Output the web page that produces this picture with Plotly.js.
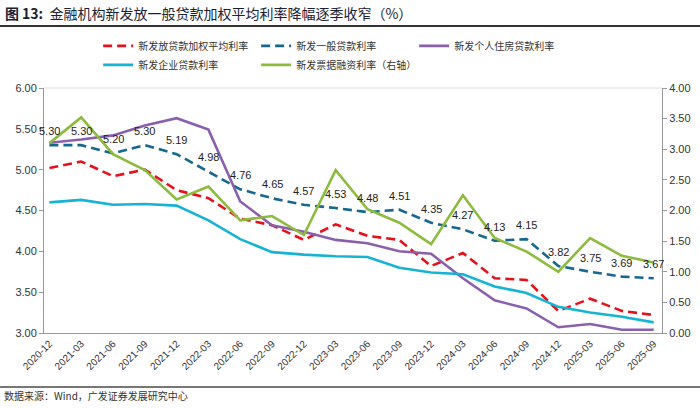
<!DOCTYPE html>
<html>
<head>
<meta charset="utf-8">
<script src="https://cdn.plot.ly/plotly-3.0.1.min.js"></script>
<style>html,body{margin:0;padding:0;background:#fff;}#chart{width:700px;height:408px;}</style>
</head>
<body>
<div id="chart"></div>
<script>
const quarters = ["2020-12","2021-03","2021-06","2021-09","2021-12","2022-03","2022-06","2022-09","2022-12","2023-03","2023-06","2023-09","2023-12","2024-03","2024-06","2024-09","2024-12","2025-03","2025-06","2025-09"];
const weightedAvg = [5.02,5.10,4.92,5.00,4.75,4.65,4.40,4.32,4.14,4.33,4.19,4.14,3.82,3.98,3.67,3.65,3.27,3.42,3.27,3.22];
const generalLoan = [5.30,5.30,5.20,5.30,5.19,4.98,4.76,4.65,4.57,4.53,4.48,4.51,4.35,4.27,4.13,4.15,3.82,3.75,3.69,3.67];
const mortgage = [5.33,5.37,5.42,5.54,5.63,5.49,4.61,4.32,4.24,4.14,4.10,4.00,3.97,3.67,3.40,3.30,3.07,3.11,3.04,3.04];
const corporate = [4.60,4.63,4.57,4.58,4.56,4.38,4.15,3.99,3.96,3.94,3.93,3.80,3.74,3.72,3.57,3.49,3.32,3.25,3.20,3.13];
const billFinancing = [3.10,3.52,2.92,2.66,2.18,2.39,1.84,1.91,1.60,2.66,2.02,1.80,1.45,2.25,1.55,1.33,1.00,1.55,1.26,1.15];
const names = ["新发放贷款加权平均利率","新发一般贷款利率","新发个人住房贷款利率","新发企业贷款利率","新发票据融资利率（右轴）"];

const FONT = "Liberation Sans, Arial, 'Noto Sans CJK SC', sans-serif";
const CJK = "'Noto Sans CJK SC', 'Liberation Sans', sans-serif";

const traces = [
  {x: quarters, y: weightedAvg, name: names[0], mode: 'lines', line: {color: '#e3121c', width: 2.6, dash: '9px,5px'}},
  {x: quarters, y: generalLoan, name: names[1], mode: 'lines', line: {color: '#17678e', width: 2.6, dash: '9px,5px'}},
  {x: quarters, y: mortgage, name: names[2], mode: 'lines', line: {color: '#8a60ad', width: 2.6}},
  {x: quarters, y: corporate, name: names[3], mode: 'lines', line: {color: '#17b3d3', width: 2.6}},
  {x: quarters, y: billFinancing, name: names[4], mode: 'lines', yaxis: 'y2', line: {color: '#8dbb3e', width: 2.6}}
];

const annotations = generalLoan.map((v, i) => ({
  x: quarters[i], y: v, xref: 'x', yref: 'y', text: v.toFixed(2), showarrow: false,
  yshift: 14, font: {family: FONT, size: 11, color: '#222'}
}));
annotations.push({
  xref: 'paper', yref: 'paper', x: -0.068, y: -0.257, xanchor: 'left', yanchor: 'middle',
  text: '数据来源：Wind，广发证券发展研究中心', showarrow: false,
  font: {family: CJK, size: 10, color: '#333'}
});

const layout = {
  width: 700, height: 408,
  margin: {l: 44, r: 38, t: 88, b: 75},
  paper_bgcolor: '#fff', plot_bgcolor: '#fff',
  font: {family: FONT, size: 11, color: '#333'},
  title: {
    text: '<b>图 13:</b>  金融机构新发放一般贷款加权平均利率降幅逐季收窄（%）',
    x: 0.007, xanchor: 'left', xref: 'container', y: 0.978, yanchor: 'top', yref: 'container',
    font: {family: CJK, size: 14, color: '#1a2233'}
  },
  showlegend: true,
  legend: {
    orientation: 'h', x: 0.0876, y: 1.231, xanchor: 'left', yanchor: 'top',
    entrywidth: 113, entrywidthmode: 'pixels', tracegroupgap: 0,
    font: {family: CJK, size: 10, color: '#333'}, bgcolor: 'rgba(0,0,0,0)'
  },
  xaxis: {
    type: 'category', range: [-0.17, 19.26], tickangle: -45,
    showline: true, linecolor: '#999', linewidth: 1, showgrid: false, zeroline: false,
    ticks: '', tickfont: {family: FONT, size: 10, color: '#333'}
  },
  yaxis: {
    range: [3, 6], dtick: 0.5, tickformat: '.2f', showline: true, linecolor: '#999', linewidth: 1,
    ticks: 'outside', ticklen: 4, tickcolor: '#999', showgrid: false, zeroline: false,
    tickfont: {family: FONT, size: 11, color: '#333'}
  },
  yaxis2: {
    range: [0, 4], dtick: 0.5, tickformat: '.2f', overlaying: 'y', side: 'right',
    showline: true, linecolor: '#999', linewidth: 1, ticks: 'outside', ticklen: 4, tickcolor: '#999',
    showgrid: false, zeroline: false, tickfont: {family: FONT, size: 11, color: '#333'}
  },
  annotations: annotations,
  shapes: [
    {type: 'line', xref: 'paper', yref: 'paper', x0: -0.0712, x1: 1.0615, y0: 1.253, y1: 1.253, line: {color: '#333', width: 2}},
    {type: 'line', xref: 'paper', yref: 'paper', x0: -0.0712, x1: 1.0615, y0: -0.2204, y1: -0.2204, line: {color: '#777', width: 2}},
    {type: 'line', xref: 'paper', yref: 'paper', x0: 0, x1: 1, y0: 1, y1: 1, line: {color: '#ddd', width: 1}}
  ]
};

Plotly.newPlot('chart', traces, layout, {displayModeBar: false, staticPlot: true});
</script>
</body>
</html>
